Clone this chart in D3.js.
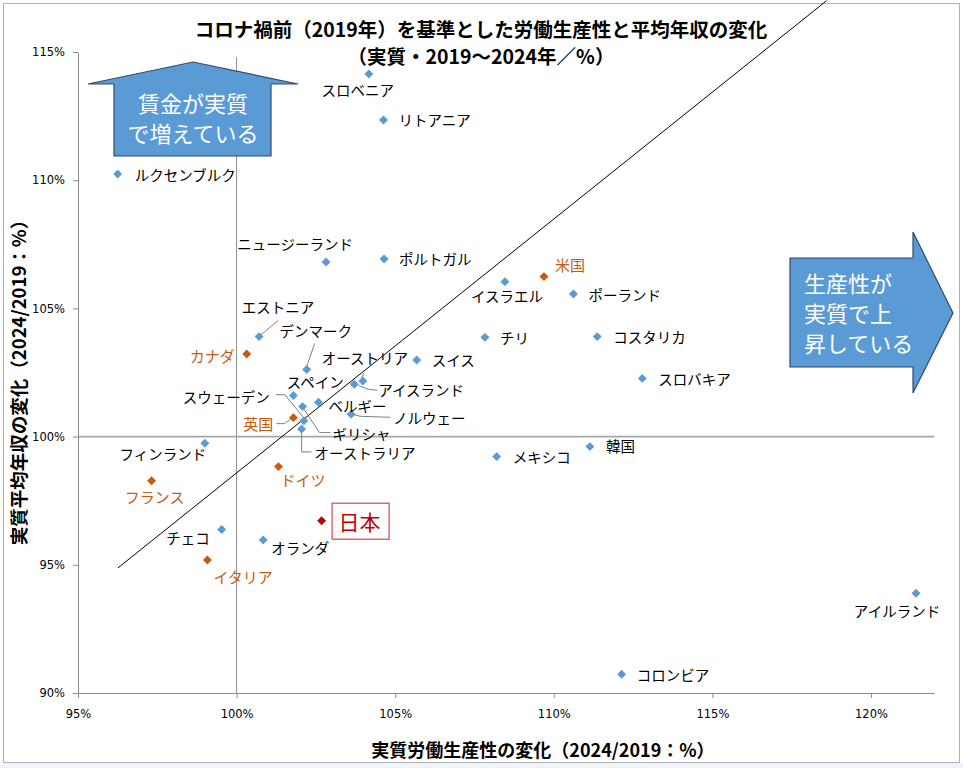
<!DOCTYPE html>
<html>
<head>
<meta charset="utf-8">
<script src="https://cdn.jsdelivr.net/npm/d3@7"></script>
<style>
  body { margin: 0; background: #fff; }
  svg { display: block; }
</style>
</head>
<body>
<div id="chart"></div>
<script>
// ---- data ----
const countries = ['スロベニア', 'リトアニア', 'ルクセンブルク', 'ニュージーランド', 'ポルトガル', 'イスラエル', '米国', 'ポーランド',
    'エストニア', 'デンマーク', 'カナダ', 'オーストリア', 'アイスランド', 'スイス', 'チリ', 'コスタリカ', 'スロバキア',
    'スペイン', 'スウェーデン', 'ベルギー', 'ノルウェー', 'ギリシャ', 'オーストラリア', '英国', 'フィンランド',
    'フランス', 'ドイツ', '日本', 'チェコ', 'オランダ', 'イタリア', 'メキシコ', '韓国', 'アイルランド', 'コロンビア'];
// 実質労働生産性の変化 (x, %)
const productivity = [104.17, 104.63, 96.25, 102.82, 104.65, 108.46, 109.69, 110.62,
    100.71, 102.21, 100.32, 103.98, 103.71, 105.68, 107.83, 111.37, 112.79,
    101.79, 102.12, 102.58, 103.61, 102.08, 102.05, 101.79, 99.0,
    97.32, 101.32, 102.68, 99.53, 100.84, 99.08, 108.2, 111.14, 121.42, 112.14];
// 実質平均年収の変化 (y, %)
const wages = [114.14, 112.35, 110.24, 106.81, 106.93, 106.04, 106.24, 105.56,
    103.9, 102.62, 103.22, 102.17, 102.04, 102.99, 103.87, 103.9, 102.27,
    101.6, 100.62, 101.34, 100.87, 101.17, 100.3, 100.74, 99.74,
    98.28, 98.83, 96.72, 96.38, 95.97, 95.19, 99.22, 99.61, 93.89, 90.73];
// other / g7 / japan
const groups = ['other', 'other', 'other', 'other', 'other', 'other', 'g7', 'other',
    'other', 'other', 'g7', 'other', 'other', 'other', 'other', 'other', 'other',
    'other', 'other', 'other', 'other', 'other', 'other', 'g7', 'other',
    'g7', 'g7', 'japan', 'other', 'other', 'g7', 'other', 'other', 'other', 'other'];

const xTicks = [95, 100, 105, 110, 115, 120];
const yTicks = [90, 95, 100, 105, 110, 115];
// 45-degree guide line (start / end in data units)
const guideLine = [[96.26, 94.88], [118.6, 117.0]];

const titleLines = ['コロナ禍前（2019年）を基準とした労働生産性と平均年収の変化', '（実質・2019～2024年／%）'];
const xTitle = '実質労働生産性の変化（2024/2019：%）';
const yTitle = '実質平均年収の変化（2024/2019：%）';

// ---- label placement (offsets in px from the marker) ----
const labelLayout = {
    'スロベニア': [-11, 15, 'middle'],
    'リトアニア': [15, 0, 'start'],
    'ルクセンブルク': [17, 0, 'start'],
    'ニュージーランド': [-31, -18, 'middle'],
    'ポルトガル': [15, 0, 'start'],
    'イスラエル': [2, 14, 'middle'],
    '米国': [11, -12, 'start'],
    'ポーランド': [15, 0, 'start'],
    'エストニア': [19, -30, 'middle', [[19, -16], [2, -2]]],
    'デンマーク': [9, -39, 'middle', [[8, -26], [0, -3]]],
    'カナダ': [-12, 1, 'end'],
    'オーストリア': [2, -23, 'middle', [[1, -8], [-1, -3]]],
    'アイスランド': [24, 5, 'start', [[23, 6], [14, 5], [4, 1]]],
    'スイス': [15, 0, 'start'],
    'チリ': [15, 0, 'start'],
    'コスタリカ': [16, 0, 'start'],
    'スロバキア': [16, 0, 'start'],
    'スペイン': [22, -14, 'middle'],
    'スウェーデン': [-34, -24, 'end', [[-28, -26], [-19, -26], [-1, -4]]],
    'ベルギー': [10, 3, 'start'],
    'ノルウェー': [42, 3, 'start', [[2, 0], [9, 2], [39, 3]]],
    'ギリシャ': [30, 27, 'start', [[28, 26], [17, 26], [1, 2]]],
    'オーストラリア': [13, 24, 'start', [[0, 3], [0, 23], [10, 23]]],
    '英国': [-20, 6, 'end', [[-17, 6], [-9, 6], [-3, 2]]],
    'フィンランド': [-42, 10, 'middle'],
    'フランス': [3, 16, 'middle'],
    'ドイツ': [2, 13, 'start'],
    '日本': [38, 0, 'middle'],
    'チェコ': [-12, 8, 'end'],
    'オランダ': [8, 8, 'start'],
    'イタリア': [6, 17, 'start'],
    'メキシコ': [16, 0, 'start'],
    '韓国': [16, -1, 'start'],
    'アイルランド': [-19, 17, 'middle'],
    'コロンビア': [15, 0, 'start']
};

const colors = { other: '#5B9BD5', g7: '#C55A11', japan: '#C00000' };
const labelColors = { other: '#000000', g7: '#C55A11', japan: '#C00000' };
const jpFont = '"Noto Sans CJK JP", "Noto Sans", sans-serif';

const width = 963, height = 768;

const svg = d3.select('#chart').append('svg')
    .attr('width', width)
    .attr('height', height);

// outer frame
svg.append('rect')
    .attr('x', 0).attr('y', 763).attr('width', width).attr('height', 5)
    .attr('fill', '#eef4fb');
svg.append('rect')
    .attr('x', 3.5).attr('y', 3.5).attr('width', 956).attr('height', 759)
    .attr('fill', '#fff')
    .attr('stroke', '#b0b0b0');

const x = d3.scaleLinear().domain([95, 122]).range([78, 934.4]);
const y = d3.scaleLinear().domain([90, 115]).range([693, 52]);

// reference lines at 100%
svg.append('line')
    .attr('x1', x(100)).attr('x2', x(100))
    .attr('y1', y(114.8)).attr('y2', y(90))
    .attr('stroke', '#8c8c8c').attr('stroke-width', 1);
svg.append('line')
    .attr('x1', x(95)).attr('x2', x(122))
    .attr('y1', y(100)).attr('y2', y(100))
    .attr('stroke', '#a6a6a6').attr('stroke-width', 1.6);

// axes
const xAxis = svg.append('g')
    .attr('transform', `translate(0,${y(90)})`)
    .call(d3.axisBottom(x).tickValues(xTicks).tickFormat(d => d + '%').tickSize(5).tickSizeOuter(0).tickPadding(12));
const yAxis = svg.append('g')
    .attr('transform', `translate(${x(95)},0)`)
    .call(d3.axisLeft(y).tickValues(yTicks).tickFormat(d => d + '%').tickSize(5).tickSizeOuter(0).tickPadding(8));

[xAxis, yAxis].forEach(a => {
    a.select('.domain').attr('stroke', '#8c8c8c');
    a.selectAll('.tick line').attr('stroke', '#8c8c8c');
    a.selectAll('.tick text')
        .attr('font-family', '"DejaVu Sans", sans-serif')
        .attr('font-size', '11.5px')
        .attr('fill', '#000');
});

// guide line
svg.append('line')
    .attr('x1', x(guideLine[0][0])).attr('y1', y(guideLine[0][1]))
    .attr('x2', x(guideLine[1][0])).attr('y2', y(guideLine[1][1]))
    .attr('stroke', '#000').attr('stroke-width', 1);

// title
titleLines.forEach((t, i) => {
    svg.append('text')
        .attr('x', 481)
        .attr('y', 28 + i * 27)
        .attr('text-anchor', 'middle')
        .attr('dominant-baseline', 'central')
        .attr('font-family', jpFont)
        .attr('font-size', '19.5px')
        .attr('font-weight', 600)
        .text(t);
});

// axis titles
svg.append('text')
    .attr('x', 543).attr('y', 749)
    .attr('text-anchor', 'middle')
    .attr('dominant-baseline', 'central')
    .attr('font-family', jpFont)
    .attr('font-size', '18px')
    .attr('font-weight', 'bold')
    .text(xTitle);
svg.append('text')
    .attr('transform', 'translate(18,378) rotate(-90)')
    .attr('text-anchor', 'middle')
    .attr('dominant-baseline', 'central')
    .attr('font-family', jpFont)
    .attr('font-size', '18.5px')
    .attr('font-weight', 'bold')
    .text(yTitle);

// callout arrows
const upArrow = [[193, 62], [298, 84], [271, 84], [271, 156], [114, 156], [114, 84], [88, 84]];
const rightArrow = [[790, 258], [913, 258], [913, 232], [953, 313], [913, 393], [913, 367], [790, 367]];
[upArrow, rightArrow].forEach(pts => {
    svg.append('path')
        .attr('d', d3.line()(pts) + 'Z')
        .attr('fill', '#5B9BD5')
        .attr('stroke', '#2F4B6A')
        .attr('stroke-width', 1.2);
});
['賃金が実質', 'で増えている'].forEach((t, i) => {
    svg.append('text')
        .attr('x', 193).attr('y', 102 + i * 30)
        .attr('text-anchor', 'middle')
        .attr('dominant-baseline', 'central')
        .attr('font-family', jpFont)
        .attr('font-size', '22px')
        .attr('fill', '#fff')
        .text(t);
});
['生産性が', '実質で上', '昇している'].forEach((t, i) => {
    svg.append('text')
        .attr('x', 804).attr('y', 282 + i * 30)
        .attr('dominant-baseline', 'central')
        .attr('font-family', jpFont)
        .attr('font-size', '22px')
        .attr('fill', '#fff')
        .text(t);
});

// points
const data = countries.map((c, i) => ({
    name: c,
    px: x(productivity[i]),
    py: y(wages[i]),
    group: groups[i],
    layout: labelLayout[c]
}));

// leader lines
svg.append('g').selectAll('path')
    .data(data.filter(d => d.layout[3]))
    .join('path')
    .attr('d', d => d3.line()(d.layout[3].map(p => [d.px + p[0], d.py + p[1]])))
    .attr('fill', 'none')
    .attr('stroke', '#7f7f7f')
    .attr('stroke-width', 1);

svg.append('g').selectAll('path')
    .data(data)
    .join('path')
    .attr('transform', d => `translate(${d.px},${d.py}) rotate(45)`)
    .attr('d', d3.symbol(d3.symbolSquare, 40))
    .attr('fill', d => colors[d.group]);

// japan box
const jp = data.find(d => d.group === 'japan');
svg.append('rect')
    .attr('x', jp.px + 10.5).attr('y', jp.py - 17.5)
    .attr('width', 57).attr('height', 36)
    .attr('fill', '#fff')
    .attr('stroke', '#D04848')
    .attr('stroke-width', 1.2);

// labels
svg.append('g').selectAll('text')
    .data(data)
    .join('text')
    .attr('x', d => d.px + d.layout[0])
    .attr('y', d => d.py + d.layout[1])
    .attr('text-anchor', d => d.layout[2])
    .attr('dominant-baseline', 'central')
    .attr('font-family', jpFont)
    .attr('font-size', d => d.group === 'japan' ? '21px' : d.group === 'g7' ? '15px' : '14.5px')
    .attr('fill', d => labelColors[d.group])
    .text(d => d.name);
</script>
</body>
</html>
